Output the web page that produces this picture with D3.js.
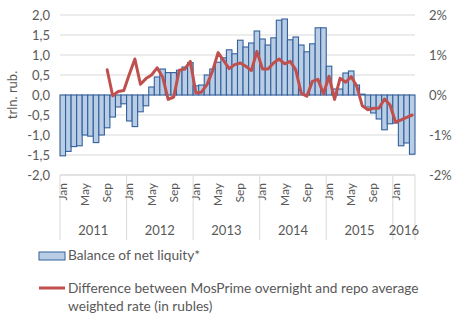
<!DOCTYPE html>
<html>
<head>
<meta charset="utf-8">
<script src="https://cdn.jsdelivr.net/npm/d3@7"></script>
<style>
  body { margin: 0; background: #fff; }
  text { font-family: "Lato", "Liberation Sans", sans-serif; fill: #595959; }
</style>
</head>
<body>
<div id="canvas"></div>
<script>
"use strict"

/* data: Jan 2011 .. Apr 2016 */
let years = ["2011", "2012", "2013", "2014", "2015", "2016"];
let monthNames = ["Jan", "Feb", "Mar", "Apr", "May", "Jun", "Jul", "Aug", "Sep", "Oct", "Nov", "Dec"];
let shownMonths = ["Jan", "May", "Sep"];

/* balance of net liquidity, trln. rub. */
let balance = [
    -1.52, -1.41, -1.29, -1.27, -1.0, -1.03, -1.19, -1.0, -0.82, -0.55, -0.30, -0.22,
    -0.65, -0.79, -0.42, -0.27, 0.20, 0.45, 0.65, 0.56, 0.56, 0.62, 0.70, 0.81,
    0.23, 0.25, 0.50, 0.65, 0.82, 0.93, 1.13, 1.03, 1.37, 1.20, 1.30, 1.60,
    1.40, 1.25, 1.43, 1.87, 1.90, 1.38, 1.45, 1.25, 1.08, 1.28, 1.68, 1.68,
    0.72, 0.15, 0.15, 0.55, 0.60, 0.25, 0.02, -0.30, -0.45, -0.60, -0.87, -0.72,
    -0.70, -1.27, -1.20, -1.48
];

/* MosPrime overnight minus repo rate, %, from Sep 2011 */
let spread = [
    null, null, null, null, null, null, null, null, 0.63, -0.02, 0.09, 0.11,
    0.52, 0.90, 0.27, 0.41, 0.50, 0.68, 0.45, -0.11, -0.05, 0.62, 0.65, 0.84,
    0.05, 0.07, 0.26, 0.60, 1.06, 0.86, 0.66, 0.76, 0.80, 0.72, 0.61, 1.09,
    0.65, 0.65, 0.80, 0.90, 0.78, 0.84, 0.63, 0.04, -0.03, 0.34, 0.39, 0.03,
    0.47, -0.11, 0.42, 0.32, 0.46, 0.22, -0.27, -0.37, -0.33, -0.33, -0.10, -0.25,
    -0.68, -0.62, -0.56, -0.50
];

let leftTicks = [-2, -1.5, -1, -0.5, 0, 0.5, 1, 1.5, 2];
let rightTicks = [-2, -1, 0, 1, 2];

let svgWidth = 453;
let svgHeight = 321;
let plotLeft = 60, plotRight = 415, plotTop = 15, plotBottom = 175;

let svg = d3.select("#canvas")
    .append("svg")
    .attr("width", svgWidth)
    .attr("height", svgHeight);

let idx = d3.range(balance.length);

let xScale = d3.scaleBand()
    .domain(idx)
    .range([plotLeft, plotRight])
    .padding(0);

let yScale = d3.scaleLinear()
    .domain([-2, 2])
    .range([plotBottom, plotTop]);

let yRight = d3.scaleLinear()
    .domain([-2, 2])
    .range([plotBottom, plotTop]);

/* gridlines */
svg.append("g")
    .selectAll("line")
    .data(leftTicks)
    .join("line")
    .attr("x1", plotLeft)
    .attr("x2", plotRight)
    .attr("y1", d => yScale(d))
    .attr("y2", d => yScale(d))
    .attr("stroke", "#d9d9d9")
    .attr("stroke-width", 1);

/* left axis */
let leftAxis = d3.axisLeft(yScale)
    .tickValues(leftTicks)
    .tickSize(0)
    .tickPadding(10)
    .tickFormat(d => d3.format(".1f")(d).replace(".", ",").replace("−", "-"));

let gLeft = svg.append("g")
    .attr("transform", `translate(${plotLeft},0)`)
    .call(leftAxis);
gLeft.select(".domain").remove();
gLeft.selectAll("text").style("font-size", "13px").attr("fill", "#595959");

/* right axis */
let rightAxis = d3.axisRight(yRight)
    .tickValues(rightTicks)
    .tickSize(0)
    .tickPadding(14)
    .tickFormat(d => String(d).replace("−", "-") + "%");

let gRight = svg.append("g")
    .attr("transform", `translate(${plotRight},0)`)
    .call(rightAxis);
gRight.select(".domain").remove();
gRight.selectAll("text").style("font-size", "13px").attr("fill", "#595959");

/* bars */
svg.append("g")
    .selectAll("rect")
    .data(idx)
    .join("rect")
    .attr("x", i => xScale(i))
    .attr("width", xScale.bandwidth())
    .attr("y", i => yScale(Math.max(0, balance[i])))
    .attr("height", i => Math.abs(yScale(balance[i]) - yScale(0)))
    .attr("fill", "#b9cde5")
    .attr("stroke", "#33609c")
    .attr("stroke-width", 1.1);

/* line */
let line = d3.line()
    .defined(i => spread[i] !== null)
    .x(i => xScale(i) + xScale.bandwidth() / 2)
    .y(i => yRight(spread[i]));

svg.append("path")
    .datum(idx)
    .attr("d", line)
    .attr("fill", "none")
    .attr("stroke", "#c0504d")
    .attr("stroke-width", 3)
    .attr("stroke-linejoin", "round")
    .attr("stroke-linecap", "round");

/* category axis: year separators, month labels, year labels */
let yearStarts = years.map((y, k) => xScale(k * 12));
yearStarts.push(plotRight);

svg.append("line")
    .attr("x1", plotLeft).attr("x2", plotRight)
    .attr("y1", plotBottom).attr("y2", plotBottom)
    .attr("stroke", "#d9d9d9");

svg.append("g")
    .selectAll("line")
    .data(yearStarts)
    .join("line")
    .attr("x1", d => d).attr("x2", d => d)
    .attr("y1", plotBottom).attr("y2", 240)
    .attr("stroke", "#d9d9d9");

let monthIdx = idx.filter(i => shownMonths.includes(monthNames[i % 12]));
svg.append("g")
    .selectAll("text")
    .data(monthIdx)
    .join("text")
    .attr("transform", i => `translate(${xScale(i) + xScale.bandwidth() / 2 + 4},183) rotate(-90)`)
    .attr("text-anchor", "end")
    .style("font-size", "12px")
    .text(i => monthNames[i % 12]);

svg.append("g")
    .selectAll("text")
    .data(years)
    .join("text")
    .attr("x", (d, k) => (yearStarts[k] + yearStarts[k + 1]) / 2)
    .attr("y", 235)
    .attr("text-anchor", "middle")
    .style("font-size", "13px")
    .text(d => d);

/* axis title */
svg.append("text")
    .attr("transform", `translate(17,${yScale(0)}) rotate(-90)`)
    .attr("text-anchor", "middle")
    .style("font-size", "13px")
    .text("trln. rub.");

/* legend */
svg.append("rect")
    .attr("x", 39).attr("y", 252)
    .attr("width", 26).attr("height", 8)
    .attr("fill", "#b9cde5")
    .attr("stroke", "#33609c");

svg.append("text")
    .attr("x", 68).attr("y", 260)
    .style("font-size", "13.7px")
    .text("Balance of net liquity*");

svg.append("line")
    .attr("x1", 39).attr("x2", 65)
    .attr("y1", 288).attr("y2", 288)
    .attr("stroke", "#c0504d")
    .attr("stroke-width", 3);

svg.append("text")
    .attr("x", 68).attr("y", 293)
    .style("font-size", "13.7px")
    .text("Difference between MosPrime overnight and repo average");

svg.append("text")
    .attr("x", 68).attr("y", 311)
    .style("font-size", "13.7px")
    .text("weighted rate (in rubles)");
</script>
</body>
</html>
